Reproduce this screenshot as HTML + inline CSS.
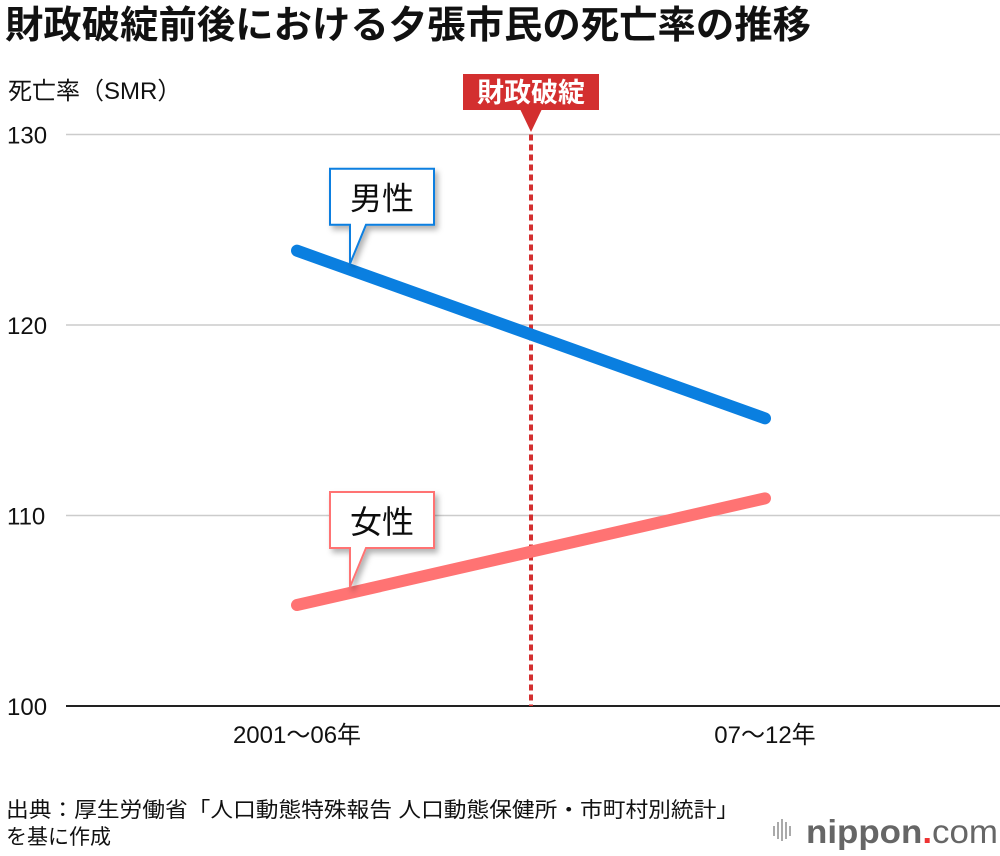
<!DOCTYPE html>
<html><head><meta charset="utf-8">
<style>
body{margin:0;background:#fff;}
svg{display:block;font-family:"Liberation Sans","Noto Sans CJK JP",sans-serif;}
</style></head>
<body>
<svg id="chart" width="1000" height="856" viewBox="0 0 1000 856">
<defs>
<filter id="sh" x="-20%" y="-20%" width="150%" height="150%"><feDropShadow dx="3" dy="4" stdDeviation="3" flood-color="#000" flood-opacity="0.3"/></filter>
</defs>
<text x="5" y="38" font-size="38" font-weight="bold" fill="#111" textLength="806" lengthAdjust="spacingAndGlyphs">財政破綻前後における夕張市民の死亡率の推移</text>
<text x="8" y="99" font-size="24" fill="#111">死亡率（SMR）</text>
<g id="grid"></g>
<g id="lines"></g>
<g id="labels"></g>
<text x="6" y="817" font-size="21" fill="#111" textLength="733" lengthAdjust="spacingAndGlyphs">出典：厚生労働省「人口動態特殊報告 人口動態保健所・市町村別統計」</text>
<text x="6" y="844" font-size="21" fill="#111">を基に作成</text>
<g>
<g fill="#aaa"><rect x="773" y="826" width="2" height="10"/><rect x="777" y="822" width="2" height="17"/><rect x="781" y="819" width="2" height="22"/><rect x="785" y="822" width="2" height="17"/><rect x="789" y="826" width="2" height="10"/></g>
<text x="806" y="843" font-size="33" font-weight="bold" fill="#666" textLength="192" lengthAdjust="spacingAndGlyphs">nippon<tspan fill="#e33" font-weight="bold">.</tspan><tspan font-weight="normal">com</tspan></text>
</g>
</svg>
<script>
const categories=["2001〜06年","07〜12年"];
const maleValues=[123.9,115.1];
const femaleValues=[105.3,110.9];
const yTicks=[100,110,120,130];
const eventLabel="財政破綻";
const NS="http://www.w3.org/2000/svg";
const x0=66,x1=1000;
function yScale(v){return 706-(v-100)*19.05;}
function xScale(i){return 297+i*(765-297);}
function mk(tag,attrs,parent){const e=document.createElementNS(NS,tag);for(const k in attrs)e.setAttribute(k,attrs[k]);parent.appendChild(e);return e;}
const grid=document.getElementById('grid'),lines=document.getElementById('lines'),labels=document.getElementById('labels');
yTicks.forEach(t=>{
 const y=yScale(t);
 const l=mk('line',{x1:x0,x2:x1,y1:y,y2:y,stroke:t===100?'#222':'#ccc','stroke-width':t===100?2:1.5},grid);
 
 
 const tx=mk('text',{x:7,y:y+9,'font-size':24,fill:'#111'},grid);
 tx.textContent=t;
 
 
});
categories.forEach((c,i)=>{
 const tx=mk('text',{x:xScale(i),y:743,'font-size':24,fill:'#111','text-anchor':'middle'},grid);
 tx.textContent=c;
 
 
});
const ex=531;
const dl=mk('line',{x1:ex,x2:ex,y1:yScale(130),y2:706,stroke:'#d32f2f','stroke-width':4,'stroke-dasharray':'6,4'},grid);


const eb=mk('g',{},grid);


mk('rect',{x:463,y:74,width:136,height:36,fill:'#d32f2f'},eb);
mk('polygon',{points:(ex-11)+',109 '+(ex+11)+',109 '+ex+',132',fill:'#d32f2f'},eb);
const et=mk('text',{x:ex,y:102,'font-size':27,'font-weight':'bold',fill:'#fff','text-anchor':'middle'},eb);
et.textContent=eventLabel;
function series(vals,color,name){
 const l=mk('line',{x1:xScale(0),y1:yScale(vals[0]),x2:xScale(1),y2:yScale(vals[1]),stroke:color,'stroke-width':12,'stroke-linecap':'round'},lines);
 
 
}
series(maleValues,'#0a7fe0','male');
series(femaleValues,'#ff7373','female');
function callout(vals,color,text,name){
 const tipX=350, tipY=yScale(vals[0])+(yScale(vals[1])-yScale(vals[0]))*(tipX-xScale(0))/(xScale(1)-xScale(0))-6;
 const by=tipY-95,bx=330,w=104,h=56;
 const g=mk('g',{filter:'url(#sh)'},labels);
 
 
 const pts=[[bx,by],[bx+w,by],[bx+w,by+h],[bx+36,by+h],[tipX,tipY],[bx+20,by+h],[bx,by+h]].map(p=>p.join(',')).join(' ');
 mk('polygon',{points:pts,fill:'#fff',stroke:color,'stroke-width':2},g);
 const t=mk('text',{x:bx+w/2,y:by+41,'font-size':32,fill:'#111','text-anchor':'middle'},g);
 t.textContent=text;
}
callout(maleValues,'#0a7fe0','男性','male');
callout(femaleValues,'#ff7373','女性','female');
</script>
</body></html>
